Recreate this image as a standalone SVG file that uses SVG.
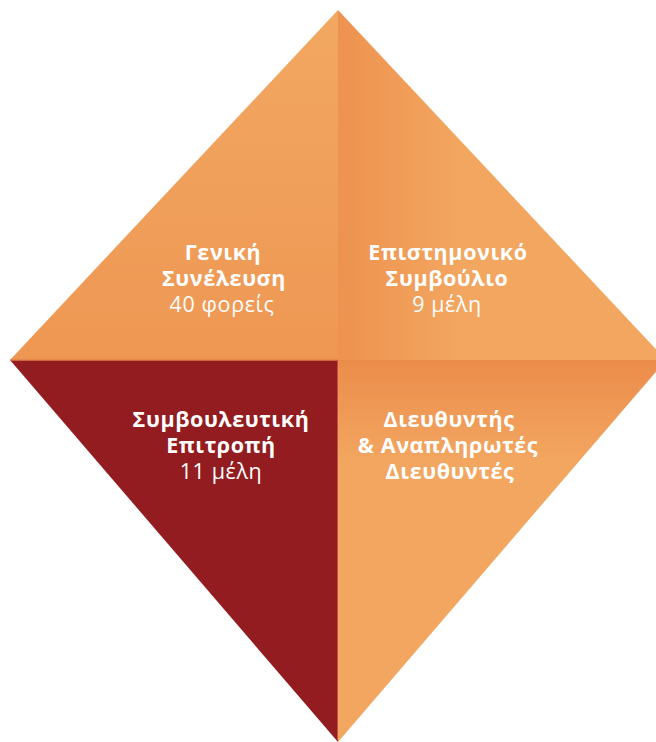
<svg xmlns="http://www.w3.org/2000/svg" width="656" height="742" viewBox="0 0 656 742">
<defs>
<linearGradient id="gTL" x1="0" y1="10" x2="0" y2="360" gradientUnits="userSpaceOnUse">
<stop offset="0" stop-color="#F2A862"/><stop offset="1" stop-color="#EE9753"/>
</linearGradient>
<linearGradient id="gTR" x1="338" y1="0" x2="460" y2="0" gradientUnits="userSpaceOnUse">
<stop offset="0" stop-color="#EE9250"/><stop offset="1" stop-color="#F2A65F"/>
</linearGradient>
<linearGradient id="gBR" x1="0" y1="360" x2="0" y2="460" gradientUnits="userSpaceOnUse">
<stop offset="0" stop-color="#EC8C4B"/><stop offset="1" stop-color="#F2A660"/>
</linearGradient>
<style>
.t{font-family:"Open Sans","Noto Sans","DejaVu Sans",sans-serif;font-size:21.5px;fill:#fff;text-anchor:middle;letter-spacing:0.6px}
.b{font-weight:700}
.r{font-weight:400}
</style>
</defs>
<g id="general-assembly">
<polygon points="338,10 10,360 338,360" fill="url(#gTL)"/>
<text class="t b" x="223" y="260">Γενική</text>
<text class="t b" x="224" y="286">Συνέλευση</text>
<text class="t r" x="222" y="312">40 φορείς</text>
</g>
<g id="scientific-council">
<polygon points="338,10 666,360 338,360" fill="url(#gTR)"/>
<text class="t b" x="448" y="260">Επιστημονικό</text>
<text class="t b" x="447" y="286">Συμβούλιο</text>
<text class="t r" x="447" y="312">9 μέλη</text>
</g>
<g id="advisory-committee">
<polygon points="10,360 338,360 338,742" fill="#931C20"/>
<text class="t b" x="221" y="427">Συμβουλευτική</text>
<text class="t b" x="221" y="453">Επιτροπή</text>
<text class="t r" x="221" y="479">11 μέλη</text>
</g>
<g id="directors">
<polygon points="338,360 666,360 338,742" fill="url(#gBR)"/>
<text class="t b" x="449" y="427">Διευθυντής</text>
<text class="t b" x="448" y="453">&amp; Αναπληρωτές</text>
<text class="t b" x="450" y="479">Διευθυντές</text>
</g>
<g id="connectors">
<line x1="10" y1="360" x2="338" y2="360" stroke="#E5824A" stroke-width="1.5"/>
<line x1="337.5" y1="360" x2="337.5" y2="740" stroke="#C0503A" stroke-width="1"/>
</g>
</svg>
